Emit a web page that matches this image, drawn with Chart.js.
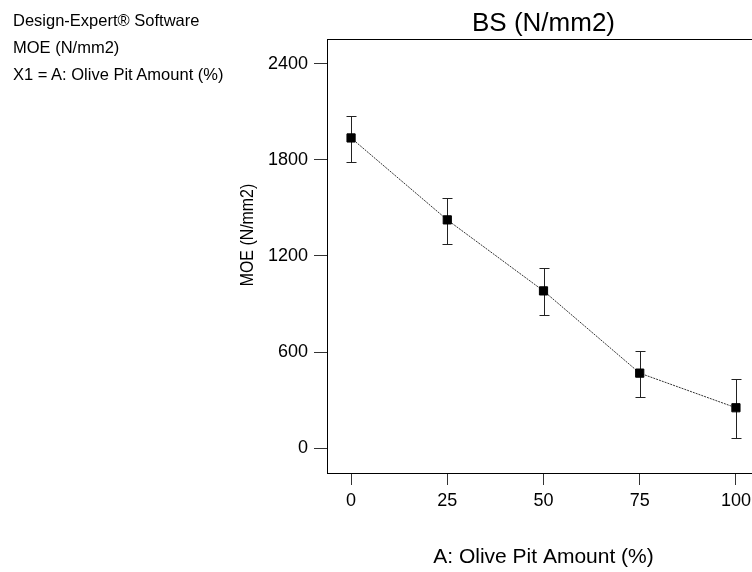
<!DOCTYPE html>
<html>
<head>
<meta charset="utf-8">
<script src="https://cdn.jsdelivr.net/npm/chart.js@4.4.0/dist/chart.umd.min.js"></script>
<style>
  html, body { margin: 0; padding: 0; background: #fff; overflow: hidden; width: 752px; height: 572px; }
  #wrap { position: relative; width: 752px; height: 572px; overflow: hidden; }
  canvas { position: absolute; left: 0; top: 0; }
  .info { position: absolute; left: 13px; font-family: "Liberation Sans", Arial, sans-serif; font-size: 16.5px; line-height: 18px; color: #000; white-space: nowrap; }
</style>
</head>
<body>
<div id="wrap">
  <canvas id="c" width="780" height="572"></canvas>
  <div class="info" style="top:11px">Design-Expert® Software</div>
  <div class="info" style="top:38px">MOE (N/mm2)</div>
  <div class="info" style="top:65px">X1 = A: Olive Pit Amount (%)</div>
</div>
<script>
// ---- data ----
const oliveAmount = [0, 25, 50, 75, 100];
const moeMean  = [1936, 1425, 982, 469, 253];
const moeLower = [1787, 1274, 831, 320, 64];
const moeUpper = [2073, 1562, 1122, 608, 432];
const xTicks = [0, 25, 50, 75, 100];
const yTicks = [0, 600, 1200, 1800, 2400];
const chartTitle = 'BS (N/mm2)';
const xTitle = 'A: Olive Pit Amount (%)';
const yTitle = 'MOE (N/mm2)';

const FONT = '"Liberation Sans", Arial, sans-serif';

const boxPlugin = {
  id: 'box',
  afterDraw(chart) {
    const {ctx, chartArea: a} = chart;
    ctx.save();
    ctx.strokeStyle = '#000';
    ctx.lineWidth = 1;
    ctx.strokeRect(Math.round(a.left) + 0.5, Math.round(a.top) + 0.5, Math.round(a.right - a.left), Math.round(a.bottom - a.top));
    ctx.restore();
  }
};

const errorBarPlugin = {
  id: 'errbars',
  beforeDatasetsDraw(chart) {
    const {ctx} = chart;
    const xs = chart.scales.x, ys = chart.scales.y;
    ctx.save();
    ctx.strokeStyle = '#222';
    ctx.lineWidth = 1;
    for (let i = 0; i < oliveAmount.length; i++) {
      const px = Math.round(xs.getPixelForValue(oliveAmount[i])) + 0.5;
      const lo = Math.round(ys.getPixelForValue(moeLower[i])) + 0.5;
      const hi = Math.round(ys.getPixelForValue(moeUpper[i])) + 0.5;
      ctx.beginPath();
      ctx.moveTo(px, lo); ctx.lineTo(px, hi);
      ctx.moveTo(px - 5, lo); ctx.lineTo(px + 5, lo);
      ctx.moveTo(px - 5, hi); ctx.lineTo(px + 5, hi);
      ctx.stroke();
    }
    ctx.restore();
  }
};

const yTitlePlugin = {
  id: 'ytitle',
  afterDraw(chart) {
    const {ctx} = chart;
    ctx.save();
    ctx.translate(247.5, 235);
    ctx.rotate(-Math.PI / 2);
    ctx.scale(0.86, 1);
    ctx.font = '18.5px ' + FONT;
    ctx.fillStyle = '#000';
    ctx.textAlign = 'center';
    ctx.textBaseline = 'middle';
    ctx.fillText(yTitle, 0, 0);
    ctx.restore();
  }
};

new Chart(document.getElementById('c'), {
  type: 'line',
  data: {
    datasets: [{
      data: oliveAmount.map((x, i) => ({x: x, y: moeMean[i]})),
      borderColor: '#333',
      borderWidth: 1,
      borderDash: [2, 1],
      pointStyle: 'rect',
      pointRadius: 5.8,
      pointBackgroundColor: '#000',
      pointBorderColor: '#000',
      pointBorderWidth: 1,
      tension: 0,
      fill: false
    }]
  },
  options: {
    responsive: false,
    animation: false,
    devicePixelRatio: 1,
    layout: { padding: { left: 240, right: 20, top: 0, bottom: 0 } },
    plugins: {
      legend: { display: false },
      tooltip: { enabled: false },
      title: {
        display: true,
        text: chartTitle,
        fullSize: false,
        color: '#000',
        font: { family: FONT, size: 26, weight: 'normal' },
        padding: { top: 8, bottom: 0 }
      }
    },
    scales: {
      x: {
        type: 'linear',
        min: -6.25,
        max: 106.25,
        afterBuildTicks: s => { s.ticks = xTicks.map(v => ({value: v})); },
        afterFit: s => { s.height = 99; },
        grid: { drawOnChartArea: false, drawTicks: true, tickLength: 12, color: '#333' },
        border: { display: true, color: '#000', width: 1 },
        ticks: { color: '#000', font: { family: FONT, size: 18 }, padding: 5, maxRotation: 0, callback: v => String(v) },
        title: { display: true, text: xTitle, color: '#000', font: { family: FONT, size: 21 }, padding: { top: 0, bottom: 2 } }
      },
      y: {
        type: 'linear',
        min: -154,
        max: 2552,
        afterBuildTicks: s => { s.ticks = yTicks.map(v => ({value: v})); },
        afterFit: s => { s.width = 87; },
        grid: { drawOnChartArea: false, drawTicks: true, tickLength: 13, color: '#333' },
        border: { display: true, color: '#000', width: 1 },
        ticks: { color: '#000', font: { family: FONT, size: 18 }, padding: 6, callback: v => String(v) }
      }
    }
  },
  plugins: [errorBarPlugin, boxPlugin, yTitlePlugin]
});
</script>
</body>
</html>
